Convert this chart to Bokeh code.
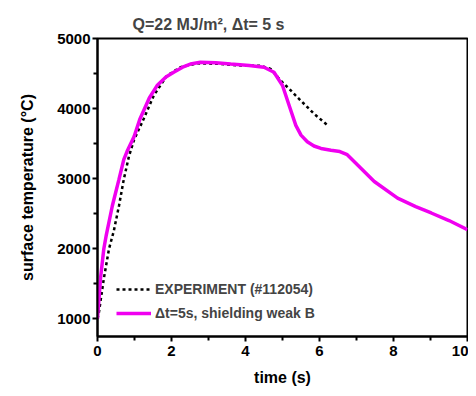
from bokeh.plotting import figure
from bokeh.models import FixedTicker, Range1d, Legend, LegendItem
from bokeh.embed import file_html
from bokeh.resources import INLINE

# Simulation: dt=5s, shielding weak B
t_sim = [0, 0.08, 0.17, 0.24, 0.4, 0.58, 0.71, 0.8, 0.99, 1.15, 1.4, 1.61, 1.85, 2.06,
         2.3, 2.51, 2.78, 3.2, 3.6, 4.1, 4.5, 4.77, 5.0, 5.18, 5.36, 5.5, 5.67, 5.85,
         6.04, 6.31, 6.55, 6.75, 7.03, 7.48, 8.11, 8.6, 9.02, 9.5, 10]
T_sim = [1000, 1567, 1993, 2200, 2608, 2987, 3271, 3389, 3600, 3855, 4150, 4328, 4450, 4518,
         4590, 4635, 4660, 4655, 4635, 4615, 4590, 4518, 4328, 4044, 3760, 3620, 3525, 3465,
         3430, 3405, 3385, 3340, 3193, 2957, 2720, 2600, 2508, 2400, 2270]

# Experiment #112054
t_exp = [0, 0.04, 0.17, 0.31, 0.44, 0.58, 0.71, 0.85, 0.99, 1.25, 1.52, 1.88, 2.24, 2.69,
         3.2, 3.87, 4.41, 4.68, 4.95, 5.18, 5.49, 5.85, 6.22]
T_exp = [1000, 1094, 1567, 1993, 2250, 2608, 2987, 3318, 3555, 3855, 4186, 4470, 4589, 4645,
         4640, 4615, 4611, 4565, 4400, 4281, 4115, 3926, 3760]

x_major = [0, 2, 4, 6, 8, 10]
x_minor = [1, 3, 5, 7, 9]
y_major = [1000, 2000, 3000, 4000, 5000]
y_minor = [1500, 2500, 3500, 4500]

FONT = "Liberation Sans"

p = figure(width=468, height=388, output_backend="svg", toolbar_location=None,
           x_range=Range1d(0, 10), y_range=Range1d(744, 5000),
           min_border_left=97, min_border_right=1, min_border_top=38, min_border_bottom=50)

p.title.text = "Q=22 MJ/m\u00b2, \u0394t= 5 s"
p.title.text_font = FONT
p.title.text_font_size = "16px"
p.title.text_font_style = "bold"
p.title.align = "left"
p.title.offset = 35
p.title.standoff = 12

exp = p.line(t_exp, T_exp, line_color="black", line_width=2.5, line_dash="3 3")
sim = p.line(t_sim, T_sim, line_color="#f000f0", line_width=3.5)

p.xgrid.visible = False
p.ygrid.visible = False
p.outline_line_color = "black"
p.outline_line_width = 2

p.xaxis.ticker = FixedTicker(ticks=x_major, minor_ticks=x_minor)
p.yaxis.ticker = FixedTicker(ticks=y_major, minor_ticks=y_minor)

for ax in (p.xaxis[0], p.yaxis[0]):
    ax.axis_line_width = 2
    ax.axis_line_color = "black"
    ax.major_tick_line_width = 2
    ax.minor_tick_line_width = 2
    ax.major_tick_out = 5
    ax.major_tick_in = 0
    ax.minor_tick_out = 4
    ax.minor_tick_in = 0
    ax.major_label_text_font = FONT
    ax.major_label_text_font_size = "15px"
    ax.major_label_text_font_style = "bold"
    ax.major_label_text_color = "black"
    ax.axis_label_text_font = FONT
    ax.axis_label_text_font_size = "16px"
    ax.axis_label_text_font_style = "bold"
    ax.axis_label_text_color = "black"

p.xaxis.axis_label = "time (s)"
p.yaxis.axis_label = "surface temperature (\u00b0C)"
p.xaxis.major_label_standoff = 4
p.xaxis.axis_label_standoff = 10
p.yaxis.major_label_standoff = 2
p.yaxis.axis_label_standoff = 18

legend = Legend(items=[LegendItem(label="EXPERIMENT (#112054)", renderers=[exp]),
                       LegendItem(label="\u0394t=5s, shielding weak B", renderers=[sim])],
                location=(19, 13))
legend.margin = 0
legend.padding = 0
legend.spacing = 4
legend.glyph_width = 35
legend.glyph_height = 20
legend.label_height = 20
legend.label_standoff = 4
legend.label_text_font = FONT
legend.label_text_font_size = "14px"
legend.label_text_font_style = "bold"
legend.border_line_alpha = 0
legend.background_fill_alpha = 0
p.add_layout(legend)

open("out.html", "w").write(file_html(p, INLINE))
